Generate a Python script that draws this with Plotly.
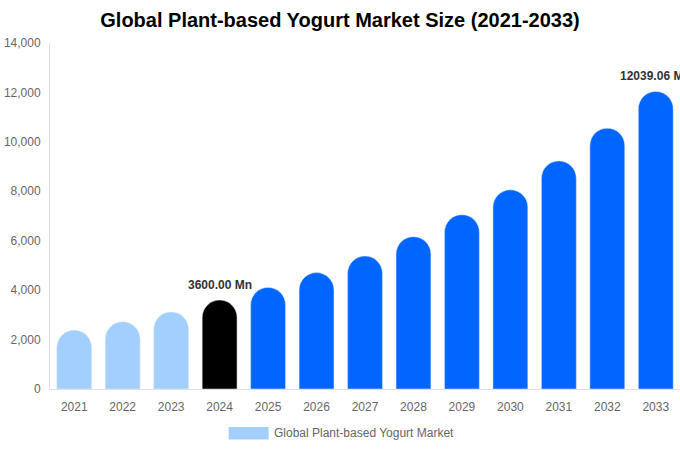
import plotly.graph_objects as go

# Market size by year, USD Mn
years = [2021, 2022, 2023, 2024, 2025, 2026, 2027,
         2028, 2029, 2030, 2031, 2032, 2033]
market_size = [2380, 2720, 3120, 3600.00, 4110, 4710, 5380,
               6160, 7050, 8060, 9230, 10550, 12039.06]
bar_colors = ["#A3CFFF"] * 3 + ["#000000"] + ["#0066FF"] * 9
labelled_years = [2024, 2033]
series_name = "Global Plant-based Yogurt Market"

FONT = "Liberation Sans, Arial, sans-serif"

fig = go.Figure(
    go.Bar(
        x=years,
        y=market_size,
        marker=dict(color=bar_colors),
        name=series_name,
        showlegend=False,
        hovertemplate="%{x}: %{y:.2f} Mn<extra></extra>",
    )
)

annotations = [
    dict(
        x=yr,
        y=market_size[years.index(yr)],
        text="<b>{:.2f} Mn</b>".format(market_size[years.index(yr)]),
        showarrow=False,
        yanchor="bottom",
        yshift=6,
        font=dict(family=FONT, size=12, color="#333333"),
    )
    for yr in labelled_years
]

# legend drawn by hand so the swatch is wide like the reference
annotations.append(
    dict(
        text=series_name,
        xref="paper",
        yref="paper",
        x=0.352,
        y=-0.128,
        xanchor="left",
        yanchor="middle",
        showarrow=False,
        font=dict(family=FONT, size=12, color="#666666"),
    )
)

fig.update_layout(
    width=680,
    height=450,
    margin=dict(l=50, r=0, t=43, b=61),
    paper_bgcolor="white",
    plot_bgcolor="white",
    bargap=0.28,
    barcornerradius=18,
    title=dict(
        text="<b>Global Plant-based Yogurt Market Size (2021-2033)</b>",
        x=0.5,
        xanchor="center",
        y=0.955,
        yanchor="middle",
        font=dict(family=FONT, size=20, color="#000000"),
    ),
    xaxis=dict(
        range=[years[0] - 0.5, years[-1] + 0.5],
        tickmode="array",
        tickvals=years,
        ticktext=[str(y) for y in years],
        showgrid=False,
        zeroline=False,
        showline=True,
        linecolor="#E0E0E0",
        ticks="",
        ticklabelstandoff=7,
        tickfont=dict(family=FONT, size=12, color="#666666"),
    ),
    yaxis=dict(
        range=[0, 14000],
        dtick=2000,
        tickformat=",",
        showgrid=False,
        zeroline=False,
        showline=True,
        linecolor="#E0E0E0",
        ticks="",
        ticklabelstandoff=6,
        tickfont=dict(family=FONT, size=12, color="#666666"),
    ),
    shapes=[
        dict(
            type="rect",
            xref="paper",
            yref="paper",
            x0=0.2835,
            x1=0.347,
            y0=-0.146,
            y1=-0.11,
            fillcolor="#A3CFFF",
            line=dict(width=0),
        )
    ],
    annotations=annotations,
)

# drop the default page margin so the chart sits at the window corner
fig.write_html(
    "out.html",
    config={"displayModeBar": False},
    post_script="document.body.style.margin = '0';",
)
